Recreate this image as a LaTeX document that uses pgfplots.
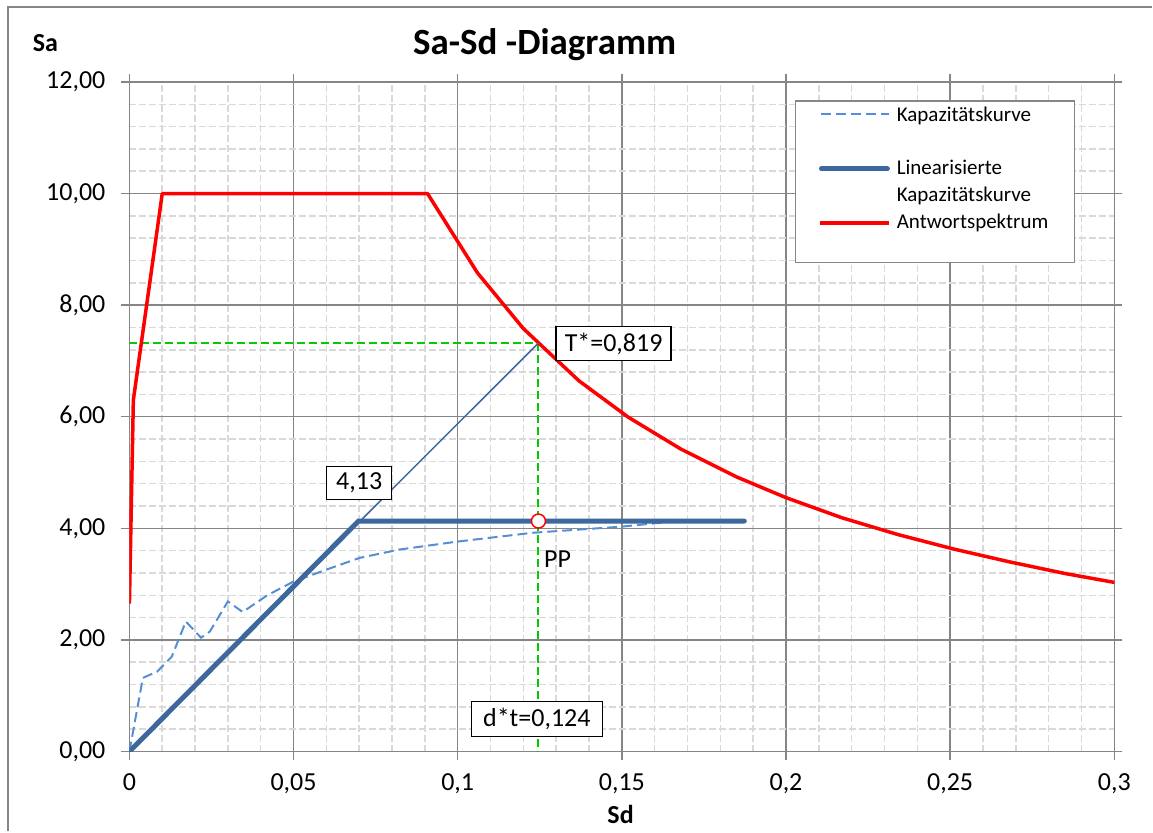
\documentclass[border=0pt]{standalone}
\usepackage{fontspec}
\setmainfont{Carlito}
\usepackage{pgfplots}
\pgfplotsset{compat=1.18}
\definecolor{gridmaj}{RGB}{134,134,134}
\definecolor{gridmin}{RGB}{217,217,217}
\definecolor{capblue}{RGB}{85,142,213}
\definecolor{linblue}{RGB}{60,104,158}
\definecolor{spred}{RGB}{255,0,0}
\definecolor{tgreen}{RGB}{0,204,0}

% capacity curve (dashed)
\pgfplotstableread{
sd      sa
0       0
0.0041  1.32
0.0084  1.43
0.0129  1.70
0.0172  2.33
0.0218  2.04
0.0245  2.15
0.0300  2.69
0.0345  2.50
0.0420  2.80
0.0498  3.04
0.0600  3.26
0.0701  3.47
0.0823  3.62
0.0996  3.76
0.1228  3.92
0.1500  4.03
0.1650  4.12
}\capacity

% response spectrum
\pgfplotstableread{
sd      sa
0       2.65
0.0012  6.30
0.0100  10.00
0.0908  10.00
0.1060  8.58
0.1200  7.58
0.1370  6.64
0.1520  5.99
0.1680  5.42
0.1850  4.92
0.2000  4.55
0.2170  4.19
0.2340  3.89
0.2510  3.63
0.2680  3.40
0.2850  3.19
0.3020  3.01
}\spectrum

\begin{document}
\begin{tikzpicture}
\path (-64.75pt,-40pt) rectangle (511.75pt,376pt);
\begin{axis}[
  scale only axis,
  width=492.75pt, height=335pt,
  xmin=0, xmax=0.3, ymin=0, ymax=12,
  xtick={0,0.05,0.1,0.15,0.2,0.25,0.3},
  ytick={0,2,4,6,8,10,12},
  minor x tick num=4, minor y tick num=4,
  grid=both,
  major grid style={draw=gridmaj, line width=0.75pt},
  minor grid style={draw=gridmin, line width=0.75pt, dash pattern=on 3.5pt off 1.5pt},
  axis line style={draw=gridmaj, line width=0.75pt},
  tick align=outside, major tick length=4pt, minor tick length=0pt,
  tick style={draw=gridmaj, line width=0.75pt},
  scaled x ticks=false,
  ticklabel style={font=\fontsize{13}{13}\selectfont},
  /pgf/number format/assume math mode=true,
  xticklabel style={yshift=-3.5pt, /pgf/number format/.cd, use comma, fixed, precision=2},
  yticklabel style={xshift=-4.5pt, /pgf/number format/.cd, use comma, fixed, fixed zerofill, precision=2},
  clip=true,
]
  % green guide lines
  \addplot[tgreen, line width=1pt, dash pattern=on 4pt off 2pt] coordinates {(0,7.32) (0.1246,7.32)};
  \addplot[tgreen, line width=1pt, dash pattern=on 4pt off 2pt] coordinates {(0.1246,7.32) (0.1246,0)};
  % response spectrum
  \addplot[spred, line width=1.75pt, line join=round] table[x=sd, y=sa] {\spectrum};
  % capacity curve
  \addplot[capblue, line width=1pt, dash pattern=on 5pt off 2.5pt] table[x=sd, y=sa] {\capacity};
  % elastic extension
  \addplot[linblue, line width=0.75pt] coordinates {(0,0) (0.1246,7.32)};
  % linearised capacity curve
  \addplot[linblue, line width=2.5pt, line cap=round] coordinates {(0,0) (0.0698,4.13) (0.1873,4.13)};
  % performance point
  \addplot[only marks, mark=*, mark size=3.5pt, mark options={draw=spred, fill=white, line width=0.75pt}] coordinates {(0.1246,4.13)};

  \node[draw=black, line width=0.75pt, fill=white, font=\fontsize{13}{13}\selectfont,
        minimum width=57.5pt, minimum height=17pt, inner sep=2pt] at (axis cs:0.1475,7.31) {T*=0,819};
  \node[draw=black, line width=0.75pt, fill=white, font=\fontsize{13}{13}\selectfont,
        minimum width=32.5pt, minimum height=16.5pt, inner sep=2pt] at (axis cs:0.0700,4.81) {4,13};
  \node[draw=black, line width=0.75pt, fill=white, font=\fontsize{13}{13}\selectfont,
        minimum width=65.5pt, minimum height=17.5pt, inner sep=2pt] at (axis cs:0.1241,0.58) {d*t=0,124};
  \node[anchor=west, font=\fontsize{13}{13}\selectfont, inner sep=0pt] at (axis cs:0.1262,3.44) {PP};
\end{axis}
\begin{scope}[shift={(-64.75pt,376pt)}, x=0.5pt, y=-0.5pt]
  % outer chart frame
  \draw[gridmaj, line width=0.75pt] (8,832) -- (8,7) -- (1153,7);
  % titles
  \node[font=\bfseries\fontsize{18.5}{18.5}\selectfont] at (545,45) {Sa-Sd -Diagramm};
  \node[font=\bfseries\fontsize{13}{13}\selectfont] at (45.5,43) {Sa};
  \node[font=\bfseries\fontsize{13}{13}\selectfont] at (621,815) {Sd};
  % legend
  \draw[gridmaj, line width=0.6pt, fill=white] (796,101) rectangle (1075,263);
  \draw[capblue, line width=1pt, dash pattern=on 5pt off 2.5pt] (822,114) -- (890,114);
  \draw[linblue, line width=2.5pt, line cap=round] (822,169) -- (888,169);
  \draw[spred, line width=1.75pt] (821,223) -- (890,223);
  \begin{scope}[every node/.style={anchor=base west, inner sep=0pt, font=\fontsize{10.5}{10.5}\selectfont}]
    \node at (897,122) {Kapazitätskurve};
    \node at (897,175) {Linearisierte};
    \node at (897,202) {Kapazitätskurve};
    \node at (897,229) {Antwortspektrum};
  \end{scope}
\end{scope}
\end{tikzpicture}
\end{document}
